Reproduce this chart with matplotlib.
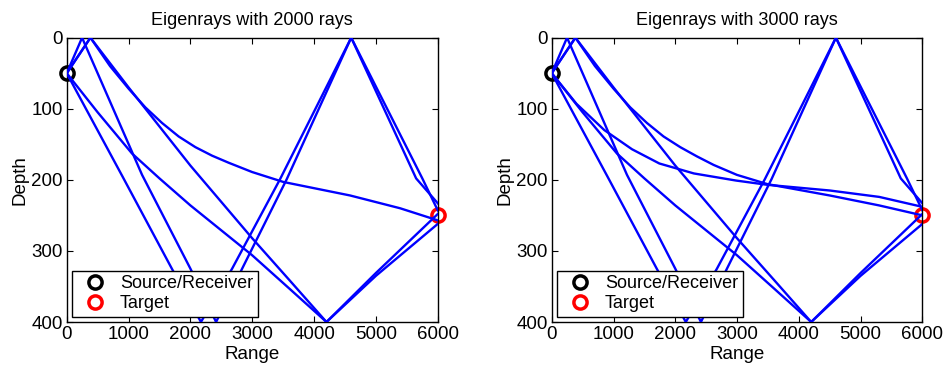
import matplotlib.pyplot as plt

plt.rcParams['font.family'] = ['Liberation Sans', 'DejaVu Sans']
plt.rcParams['font.size'] = 13.5

# Source / receiver and target (range, depth)
src_range = 0
src_depth = 50
tgt_range = 6000
tgt_depth = 250

# Eigenrays found with both fans (range, depth)
# steep ray: bottom at ~2170, surface at ~4600
ray_a_range = [0, 900, 1700, 2170, 2674, 3450, 4600, 5650, 6000]
ray_a_depth = [50, 195, 325, 400, 325, 199, 0, 198, 233]

# surface at ~250, bottom at ~2415, surface at ~4600
ray_c_range = [0, 248, 1218, 2000, 2415, 2836, 3558, 4600, 5750, 6000]
ray_c_depth = [50, 0, 193, 325, 400, 325, 199, 0, 198, 243]

# direct down to bottom at ~4200
ray_b_range = [0, 500, 1056, 1500, 2000, 2997, 3600, 4200, 5000, 6000]
ray_b_depth = [50, 105, 163, 198, 236, 306, 353, 400, 335, 262]

# surface at ~380, bottom at ~4200
ray_d_range = [0, 383, 1000, 2000, 2997, 3600, 4200, 5000, 6000]
ray_d_depth = [50, 0, 70, 180, 282, 341, 400, 331, 248]

# refracted ray via surface at ~380 (2000 rays)
ray_e1_range = [0, 383, 700, 1003, 1270, 1541, 1810, 2080, 2350, 2620, 2997, 3503, 4582, 5391, 6000]
ray_e1_depth = [50, 0, 40, 72, 98, 120, 139, 154, 166, 176, 189, 203, 222, 240, 257]

# refracted ray via surface at ~380 (3000 rays)
ray_e2_range = [0, 383, 700, 1003, 1270, 1541, 1810, 2080, 2350, 2620, 2997, 3490, 4500, 5300, 6000]
ray_e2_depth = [50, 0, 40, 72, 98, 120, 139, 154, 167, 179, 193, 206, 222, 236, 250]

# refracted ray straight from the source (3000 rays only)
ray_f_range = [0, 400, 851, 1300, 1742, 2300, 2983, 3490, 4500, 5300, 6000]
ray_f_depth = [50, 93, 130, 157, 177, 191, 201, 207, 215, 224, 238]

titles = ['Eigenrays with 2000 rays', 'Eigenrays with 3000 rays']
rays_2000 = [(ray_a_range, ray_a_depth), (ray_b_range, ray_b_depth),
             (ray_c_range, ray_c_depth), (ray_d_range, ray_d_depth),
             (ray_e1_range, ray_e1_depth)]
rays_3000 = [(ray_a_range, ray_a_depth), (ray_b_range, ray_b_depth),
             (ray_c_range, ray_c_depth), (ray_d_range, ray_d_depth),
             (ray_e2_range, ray_e2_depth), (ray_f_range, ray_f_depth)]

fig = plt.figure(figsize=(9.48, 3.65), dpi=100)
ax1 = fig.add_axes([0.0704, 0.1178, 0.3914, 0.779])
ax2 = fig.add_axes([0.582, 0.1178, 0.391, 0.779])

for ax, title, rays in zip([ax1, ax2], titles, [rays_2000, rays_3000]):
  # markers first so they show up in the legend
  ax.plot(src_range, src_depth, 'o', color='k', mfc='none', ms=9.5, mew=2.5,
          clip_on=False, label='Source/Receiver', zorder=2)
  ax.plot(tgt_range, tgt_depth, 'o', color='r', mfc='none', ms=9.5, mew=2.5,
          clip_on=False, label='Target', zorder=2)
  for r, z in rays:
    ax.plot(r, z, color='b', lw=1.7, zorder=3)

  ax.set_xlim(0, 6000)
  ax.set_ylim(400, 0)
  ax.set_xticks(range(0, 6001, 1000))
  ax.set_yticks(range(0, 401, 100))
  ax.tick_params(direction='in', top=True, right=True, length=4, width=0.8, pad=3)
  for s in ax.spines.values():
    s.set_linewidth(1.0)
  ax.set_title(title, fontsize=13, pad=9)
  ax.set_xlabel('Range', labelpad=2)
  ax.set_ylabel('Depth', labelpad=2)
  leg = ax.legend(loc='lower left', borderaxespad=0.3, fancybox=False,
                  edgecolor='k', framealpha=1, borderpad=0.25, labelspacing=0.15,
                  handletextpad=0.4, handlelength=2.0, fontsize=13)
  leg.get_frame().set_linewidth(1.0)
  leg.set_zorder(5)

fig.savefig('out.png', dpi=100)
